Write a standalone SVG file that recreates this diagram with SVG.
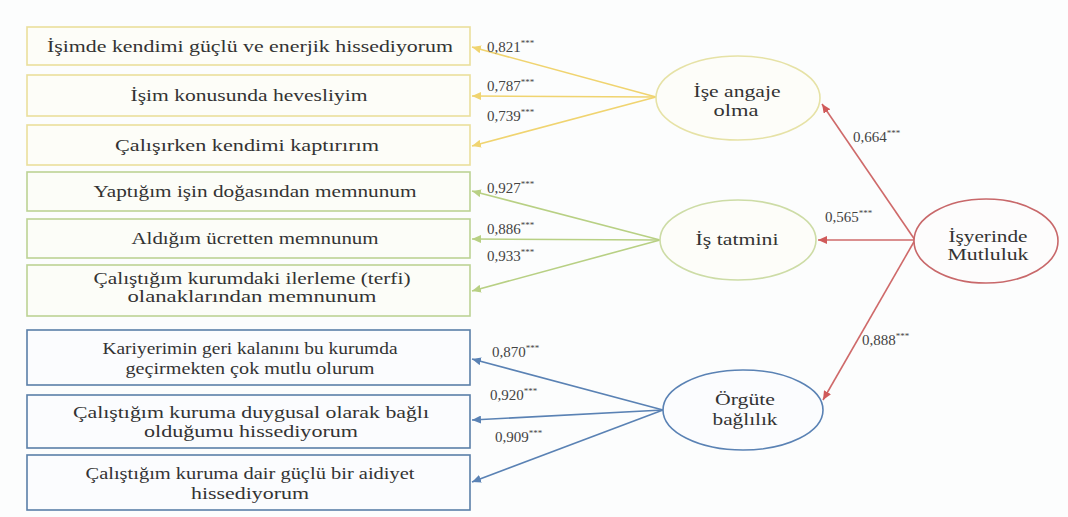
<svg xmlns="http://www.w3.org/2000/svg" width="1068" height="517" viewBox="0 0 1068 517" font-family="'Liberation Serif', 'Times New Roman', serif">
<style>
text{font-family:'Liberation Serif','Times New Roman',serif}
.bt{font-size:17.5px;fill:#333;text-anchor:middle}
.et{font-size:17.5px;fill:#333;text-anchor:middle}
.lb{font-size:15px;fill:#444}
.sup{font-size:9px}
.by{fill:#fdfdf8;stroke:#eadf9c;stroke-width:1.6}
.bg{fill:#fcfdf8;stroke:#bcd394;stroke-width:1.6}
.bb{fill:#fbfcfe;stroke:#5a7fa8;stroke-width:1.6}
.ly{stroke:#f0d470;stroke-width:1.6;fill:none;marker-end:url(#ay)}
.lg{stroke:#b8d084;stroke-width:1.6;fill:none;marker-end:url(#ag)}
.lbl{stroke:#5a82b4;stroke-width:1.6;fill:none;marker-end:url(#ab)}
.lr{stroke:#cf6a6a;stroke-width:1.6;fill:none;marker-end:url(#ar)}
</style>
<defs>
<marker id="ay" markerUnits="userSpaceOnUse" markerWidth="10" markerHeight="8" refX="9" refY="4" orient="auto"><path d="M0,0 L9,4 L0,8 z" fill="#f0d470"/></marker>
<marker id="ag" markerUnits="userSpaceOnUse" markerWidth="10" markerHeight="8" refX="9" refY="4" orient="auto"><path d="M0,0 L9,4 L0,8 z" fill="#b8d084"/></marker>
<marker id="ab" markerUnits="userSpaceOnUse" markerWidth="10" markerHeight="8" refX="9" refY="4" orient="auto"><path d="M0,0 L9,4 L0,8 z" fill="#5a82b4"/></marker>
<marker id="ar" markerUnits="userSpaceOnUse" markerWidth="10" markerHeight="8" refX="9" refY="4" orient="auto"><path d="M0,0 L9,4 L0,8 z" fill="#d05a5a"/></marker>
</defs>
<rect width="1068" height="517" fill="#fcfdfd"/>

<g id="connectors">
<path class="ly" d="M656,97 L472,47"/>
<path class="ly" d="M656,97 L472,96"/>
<path class="ly" d="M656,97 L472,146"/>
<path class="lg" d="M660,240 L472,191"/>
<path class="lg" d="M660,240 L472,239"/>
<path class="lg" d="M660,240 L472,291"/>
<path class="lbl" d="M663,410 L472,359"/>
<path class="lbl" d="M663,410 L472,420"/>
<path class="lbl" d="M663,410 L472,482"/>
<path class="lr" d="M915,240 L822,104"/>
<path class="lr" d="M915,240 L818,240"/>
<path class="lr" d="M915,240 L823,400"/>
</g>

<g id="labels">
<text class="lb" x="487" y="52">0,821<tspan class="sup" dy="-6">***</tspan></text>
<text class="lb" x="487" y="91">0,787<tspan class="sup" dy="-6">***</tspan></text>
<text class="lb" x="487" y="121">0,739<tspan class="sup" dy="-6">***</tspan></text>
<text class="lb" x="487" y="193">0,927<tspan class="sup" dy="-6">***</tspan></text>
<text class="lb" x="487" y="234">0,886<tspan class="sup" dy="-6">***</tspan></text>
<text class="lb" x="487" y="261">0,933<tspan class="sup" dy="-6">***</tspan></text>
<text class="lb" x="492" y="357">0,870<tspan class="sup" dy="-6">***</tspan></text>
<text class="lb" x="490" y="400">0,920<tspan class="sup" dy="-6">***</tspan></text>
<text class="lb" x="495" y="442">0,909<tspan class="sup" dy="-6">***</tspan></text>
<text class="lb" x="853" y="142">0,664<tspan class="sup" dy="-6">***</tspan></text>
<text class="lb" x="825" y="222">0,565<tspan class="sup" dy="-6">***</tspan></text>
<text class="lb" x="862" y="345">0,888<tspan class="sup" dy="-6">***</tspan></text>
</g>

<g id="y1"><rect class="by" x="27" y="27" width="443" height="38"/><text class="bt" x="250" y="52" textLength="406" lengthAdjust="spacingAndGlyphs">İşimde kendimi güçlü ve enerjik hissediyorum</text></g>
<g id="y2"><rect class="by" x="27" y="75" width="443" height="41"/><text class="bt" x="249" y="101" textLength="237" lengthAdjust="spacingAndGlyphs">İşim konusunda hevesliyim</text></g>
<g id="y3"><rect class="by" x="27" y="125" width="443" height="40"/><text class="bt" x="247" y="151" textLength="264" lengthAdjust="spacingAndGlyphs">Çalışırken kendimi kaptırırım</text></g>

<g id="g1"><rect class="bg" x="27" y="172" width="443" height="39"/><text class="bt" x="255" y="197" textLength="323" lengthAdjust="spacingAndGlyphs">Yaptığım işin doğasından memnunum</text></g>
<g id="g2"><rect class="bg" x="27" y="219" width="443" height="39"/><text class="bt" x="255" y="244" textLength="247" lengthAdjust="spacingAndGlyphs">Aldığım ücretten memnunum</text></g>
<g id="g3"><rect class="bg" x="27" y="265" width="443" height="51"/><text class="bt" x="252" y="284" textLength="317" lengthAdjust="spacingAndGlyphs">Çalıştığım kurumdaki ilerleme (terfi)</text><text class="bt" x="252" y="302" textLength="249" lengthAdjust="spacingAndGlyphs">olanaklarından memnunum</text></g>

<g id="b1"><rect class="bb" x="27" y="330" width="443" height="55"/><text class="bt" x="250" y="354" textLength="295" lengthAdjust="spacingAndGlyphs">Kariyerimin geri kalanını bu kurumda</text><text class="bt" x="250" y="374" textLength="249" lengthAdjust="spacingAndGlyphs">geçirmekten çok mutlu olurum</text></g>
<g id="b2"><rect class="bb" x="27" y="395" width="443" height="53"/><text class="bt" x="251" y="418" textLength="356" lengthAdjust="spacingAndGlyphs">Çalıştığım kuruma duygusal olarak bağlı</text><text class="bt" x="251" y="437" textLength="214" lengthAdjust="spacingAndGlyphs">olduğumu hissediyorum</text></g>
<g id="b3"><rect class="bb" x="27" y="455" width="443" height="55"/><text class="bt" x="250" y="479" textLength="329" lengthAdjust="spacingAndGlyphs">Çalıştığım kuruma dair güçlü bir aidiyet</text><text class="bt" x="250" y="499" textLength="118" lengthAdjust="spacingAndGlyphs">hissediyorum</text></g>

<g id="e1"><ellipse cx="738" cy="98" rx="82" ry="42" fill="#fdfdf9" stroke="#e6e2a6" stroke-width="1.6"/><text class="et" x="737" y="97" textLength="87" lengthAdjust="spacingAndGlyphs">İşe angaje</text><text class="et" x="736" y="116" textLength="45" lengthAdjust="spacingAndGlyphs">olma</text></g>
<g id="e2"><ellipse cx="738" cy="240" rx="78" ry="40" fill="#fdfdf9" stroke="#cddca6" stroke-width="1.6"/><text class="et" x="737" y="245" textLength="83" lengthAdjust="spacingAndGlyphs">İş tatmini</text></g>
<g id="e3"><ellipse cx="743" cy="410" rx="80" ry="40" fill="#fbfcfe" stroke="#5a82b4" stroke-width="1.6"/><text class="et" x="745" y="405" textLength="60" lengthAdjust="spacingAndGlyphs">Örgüte</text><text class="et" x="745" y="425" textLength="65" lengthAdjust="spacingAndGlyphs">bağlılık</text></g>
<g id="e4"><ellipse cx="986" cy="241" rx="72" ry="42" fill="#fdfcfc" stroke="#c8686a" stroke-width="1.6"/><text class="et" x="988" y="242" textLength="79" lengthAdjust="spacingAndGlyphs">İşyerinde</text><text class="et" x="988" y="260" textLength="81" lengthAdjust="spacingAndGlyphs">Mutluluk</text></g>
</svg>
